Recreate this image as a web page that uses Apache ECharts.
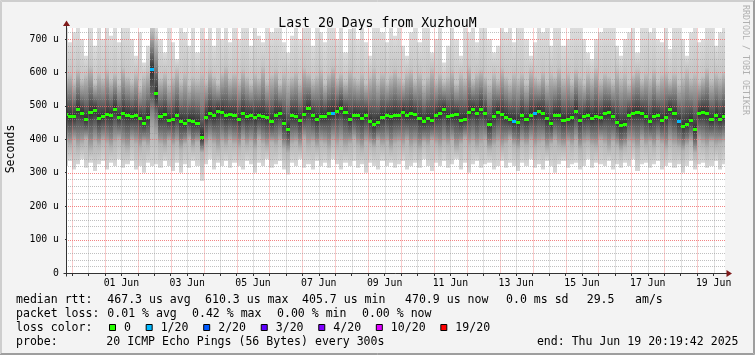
<!DOCTYPE html>
<html>
<head>
<meta charset="utf-8">
<title>Last 20 Days from XuzhouM</title>
<script src="https://cdn.jsdelivr.net/npm/echarts@6.0.0/dist/echarts.min.js"></script>
<style>
  html, body { margin: 0; padding: 0; background: #f3f3f3; }
  #main { width: 755px; height: 355px; }
</style>
</head>
<body>
<div id="main"></div>
<script>
// time axis is in hours since 30 May 00:00
const startHour = 20 + 19 / 60 + 42 / 3600;   // 30 May 20:19:42
const endHour = startHour + 20 * 24;          // 19 Jun 20:19:42
const firstColumn = 18;                       // first column starts 30 May 18:00
const columnHours = 3;

// median rtt per 3h column (us)
const median = [
  475, 470, 470, 490, 480, 460, 482, 488, 465, 470, 476,
  474, 492, 468, 480, 474, 470, 472, 465, 450, 466, 610,
  540, 470, 475, 458, 460, 472, 455, 448, 458, 455, 450,
  406, 468, 480, 472, 485, 482, 472, 475,
  472, 462, 478, 470, 473, 468, 473, 470, 466, 455,
  473, 478, 450, 431, 473, 470, 458, 475, 493, 472,
  462, 470, 471, 478, 480, 485, 495, 481, 460, 473,
  472, 465, 473, 455, 445, 453, 468, 473, 470, 473,
  472, 483, 472, 478, 475, 463, 455, 463, 458, 473,
  478, 490, 470, 472, 475, 458, 462, 482, 490, 480,
  492, 478, 445, 470, 483, 475, 468, 460, 455, 452,
  472, 462, 473, 478, 485, 478, 463, 448, 473, 473,
  458, 460, 466, 485, 458, 470, 473, 465, 470, 466,
  478, 482, 470, 452, 443, 446, 473, 478, 481, 478,
  470, 455, 470, 472, 458, 468, 490, 478, 455, 440,
  445, 458, 430, 478, 483, 478, 460, 472, 462, 471
];

// highest ping of each column (values above 733 run off the top)
const smokeTop = [
  760, 690, 720, 760, 700, 650, 740, 680, 760, 700, 760,
  710, 760, 690, 740, 760, 700, 650, 720, 630, 680, 760,
  760, 700, 660, 740, 690, 640, 760, 720, 680, 760, 660,
  760, 700, 760, 680, 740, 700, 760, 690,
  760, 700, 760, 740, 680, 760, 710, 690, 760, 720,
  760, 740, 690, 660, 710, 760, 700, 760, 740, 680,
  760, 720, 690, 760, 740, 700, 760, 660, 730, 760,
  700, 760, 690, 650, 740, 760, 720, 690, 760, 710,
  760, 680, 650, 720, 760, 690, 760, 740, 660, 700,
  760, 630, 680, 760, 700, 650, 760, 720, 760, 690,
  740, 760, 700, 660, 680, 760, 720, 760, 690, 740,
  760, 700, 650, 690, 760, 720, 760, 680, 740, 760,
  680, 700, 760, 740, 760, 700, 660, 640, 700, 720,
  760, 740, 760, 680, 650, 700, 720, 760, 660, 740,
  760, 720, 760, 700, 690, 760, 670, 740, 760, 700,
  650, 720, 760, 690, 700, 760, 740, 680, 720, 760
];

// upper edge of the darker smoke
const smokeHigh = [
  590, 600, 575, 610, 580, 595, 620, 570, 600, 585, 610,
  580, 600, 570, 615, 590, 575, 600, 560, 590, 605, 740,
  700, 585, 600, 570, 590, 610, 575, 600, 565, 590, 580,
  600, 575, 610, 590, 570, 600, 620, 585,
  600, 580, 610, 590, 570, 600, 585, 620, 575, 595,
  610, 570, 600, 580, 590, 605, 575, 615, 600, 580,
  595, 610, 570, 600, 620, 585, 600, 575, 610, 590,
  580, 600, 570, 590, 615, 580, 600, 575, 595, 610,
  590, 575, 600, 610, 580, 600, 570, 590, 615, 580,
  600, 575, 590, 610, 570, 600, 585, 620, 580, 600,
  610, 590, 570, 600, 580, 615, 590, 575, 600, 585,
  600, 570, 610, 590, 580, 605, 575, 600, 590, 615,
  585, 600, 575, 610, 590, 570, 600, 585, 615, 580,
  600, 590, 575, 610, 585, 600, 570, 595, 610, 580,
  600, 585, 610, 575, 595, 605, 580, 600, 570, 590,
  610, 585, 600, 575, 590, 615, 580, 600, 590, 605
];

// lower edge of the darker smoke
const smokeLow = [
  390, 380, 395, 375, 385, 400, 370, 390, 380, 395, 385,
  375, 390, 400, 380, 370, 395, 385, 375, 390, 380, 420,
  410, 385, 375, 395, 380, 390, 370, 385, 400, 375, 390,
  360, 380, 395, 385, 370, 390, 380, 395,
  385, 375, 395, 380, 390, 370, 400, 385, 375, 390,
  380, 395, 370, 360, 385, 390, 375, 400, 380, 390,
  375, 390, 385, 370, 395, 380, 390, 375, 385, 400,
  380, 370, 390, 385, 375, 395, 380, 390, 370, 385,
  390, 380, 395, 375, 385, 370, 390, 380, 395, 385,
  375, 390, 380, 395, 370, 385, 400, 380, 390, 375,
  385, 395, 370, 380, 390, 375, 385, 400, 380, 370,
  390, 380, 395, 375, 385, 390, 370, 385, 395, 380,
  375, 390, 380, 395, 370, 385, 390, 380, 375, 395,
  385, 370, 390, 380, 365, 375, 390, 385, 370, 395,
  380, 390, 375, 395, 385, 370, 390, 380, 375, 365,
  380, 390, 360, 395, 385, 375, 390, 380, 385, 390
];

// lowest ping of each column
const smokeBottom = [
  320, 335, 310, 325, 340, 315, 330, 305, 325, 335, 310,
  330, 320, 340, 315, 325, 335, 310, 320, 300, 330, 320,
  325, 315, 335, 320, 305, 330, 300, 325, 315, 335, 320,
  275, 325, 340, 310, 330, 320, 335, 315,
  330, 320, 310, 335, 325, 300, 330, 320, 340, 315,
  325, 335, 310, 295, 330, 320, 340, 315, 325, 310,
  335, 320, 330, 315, 340, 325, 310, 330, 320, 335,
  315, 325, 300, 330, 320, 310, 335, 320, 330, 315,
  325, 335, 310, 320, 330, 315, 340, 320, 305, 330,
  320, 335, 315, 325, 340, 310, 330, 300, 325, 335,
  315, 325, 330, 310, 320, 335, 315, 330, 320, 305,
  330, 320, 340, 315, 325, 310, 335, 320, 300, 325,
  335, 315, 325, 330, 310, 320, 340, 315, 330, 325,
  320, 335, 310, 325, 315, 330, 320, 340, 305, 325,
  330, 315, 325, 335, 310, 320, 330, 315, 325, 300,
  320, 335, 310, 325, 330, 315, 320, 335, 310, 325
];

// columns that lost pings, and how many (index into lossColors)
const lossColumns = [21, 65, 109, 114, 149];
const lossLevel = [1, 1, 1, 1, 1];

const lossLabels = ['0', '1/20', '2/20', '3/20', '4/20', '10/20', '19/20'];
const lossColors = ['#26ff00', '#00b8ff', '#0059ff', '#5e00ff', '#7e00ff', '#dd00ff', '#ff0000'];

// x axis: labels at noon of every second day, grid at midnight and noon
const xLabelText = ['01 Jun', '03 Jun', '05 Jun', '07 Jun', '09 Jun', '11 Jun', '13 Jun', '15 Jun', '17 Jun', '19 Jun'];
const xLabelHour = [60, 108, 156, 204, 252, 300, 348, 396, 444, 492];
const midnightHours = [24, 48, 72, 96, 120, 144, 168, 192, 216, 240, 264, 288, 312, 336, 360, 384, 408, 432, 456, 480];
const noonHours = [36, 60, 84, 108, 132, 156, 180, 204, 228, 252, 276, 300, 324, 348, 372, 396, 420, 444, 468, 492];

// y axis
const yMax = 733;
const yLabels = [0, 100, 200, 300, 400, 500, 600, 700];
const yMinor = [20, 40, 60, 80, 120, 140, 160, 180, 220, 240, 260, 280, 320, 340, 360, 380,
  420, 440, 460, 480, 520, 540, 560, 580, 620, 640, 660, 680, 720];

// legend text
const legendRtt = [['median rtt:', 16], ['467.3 us avg', 107.3], ['610.3 us max', 205], ['405.7 us min', 302],
  ['470.9 us now', 405], ['0.0 ms sd', 506], ['29.5', 586.7], ['am/s', 635]];
const legendLoss = [['packet loss:', 16], ['0.01 % avg', 107.3], ['0.42 % max', 192], ['0.00 % min', 277], ['0.00 % now', 362]];
const probeText = 'probe:       20 ICMP Echo Pings (56 Bytes) every 300s';
const endText = 'end: Thu Jun 19 20:19:42 2025';

const MONO = 'DejaVu Sans Mono';
const GRID = { left: 67, top: 28, width: 658, height: 245 };

const chart = echarts.init(document.getElementById('main'));

const smokeData = median.map((m, i) => [
  Math.max(firstColumn + i * columnHours, startHour),
  Math.min(firstColumn + (i + 1) * columnHours, endHour),
  smokeBottom[i], smokeLow[i], m, smokeHigh[i], smokeTop[i]
]);
const medianData = median.map((m, i) => {
  const k = lossColumns.indexOf(i);
  return [smokeData[i][0], smokeData[i][1], m, k < 0 ? 0 : lossLevel[k]];
});

function colRange(params, api) {
  const cs = params.coordSys;
  const xa = Math.max(Math.round(api.coord([api.value(0), 0])[0]), cs.x);
  const xb = Math.min(Math.round(api.coord([api.value(1), 0])[0]), cs.x + cs.width);
  return [xa, xb];
}

function renderSmoke(params, api) {
  const cs = params.coordSys;
  const [xa, xb] = colRange(params, api);
  const yOf = v => api.coord([api.value(0), v])[1];
  const yTop = Math.max(yOf(api.value(6)), cs.y);
  const yBot = yOf(api.value(2));
  const yLo = yOf(api.value(3));
  const yMed = yOf(api.value(4));
  const yHi = Math.max(yOf(api.value(5)), yTop);
  const h = yBot - yTop;
  const off = y => Math.min(1, Math.max(0, (y - yTop) / h));
  const fill = new echarts.graphic.LinearGradient(0, 0, 0, 1, [
    { offset: 0, color: '#dcdcdc' },
    { offset: off(yHi), color: '#c4c4c4' },
    { offset: off((yHi + yMed) / 2), color: '#818181' },
    { offset: off(yMed), color: '#303030' },
    { offset: off((yMed + yLo) / 2), color: '#6e6e6e' },
    { offset: off(yLo), color: '#b4b4b4' },
    { offset: 1, color: '#d8d8d8' }
  ]);
  return { type: 'rect', shape: { x: xa, y: yTop, width: xb - xa, height: h }, style: { fill: fill } };
}

function renderMedian(params, api) {
  const [xa, xb] = colRange(params, api);
  const y = Math.round(api.coord([api.value(0), api.value(2)])[1]);
  return { type: 'rect', shape: { x: xa, y: y - 1, width: xb - xa, height: 3 },
    style: { fill: lossColors[api.value(3)] } };
}

// legend graphics
const graphics = [];
const legendFont = { fontFamily: MONO, fontSize: 11.55, fill: '#000', verticalAlign: 'middle', align: 'left' };
function addText(text, x, y, extra) {
  graphics.push({ type: 'text', x: x, y: y, silent: true, z: 10,
    style: Object.assign({ text: text }, legendFont, extra || {}) });
}
legendRtt.forEach(([t, x]) => addText(t, x, 299.5));
legendLoss.forEach(([t, x]) => addText(t, x, 313.5));
addText('loss color:', 16, 327.5);
let bx = 109;
lossLabels.forEach((lab, i) => {
  graphics.push({ type: 'rect', silent: true, z: 10, shape: { x: bx + 0.5, y: 324.5, width: 6, height: 6 },
    style: { fill: lossColors[i], stroke: '#000', lineWidth: 1 } });
  addText(lab, bx + 15, 327.5);
  bx += 15 + lab.length * 6.96 + 14.7;
});
addText(probeText, 16, 341.5);
addText(endText, 738.5, 341.5, { align: 'right' });

// y axis title and watermark
addText('Seconds', 11, 149, { align: 'center' });
graphics[graphics.length - 1].rotation = Math.PI / 2;
graphics.push({ type: 'text', x: 745, y: 5, rotation: -Math.PI / 2, silent: true, z: 10,
  style: { text: 'RRDTOOL / TOBI OETIKER', fontFamily: MONO, fontSize: 8.3, fill: '#b0b0b0',
    align: 'left', verticalAlign: 'middle' } });

// frame
const frame = [
  { points: [[0.5, 354], [0.5, 0.5], [755, 0.5]], stroke: '#cecece' },
  { points: [[1.5, 353], [1.5, 1.5], [754, 1.5]], stroke: '#cecece' },
  { points: [[0, 354.5], [754.5, 354.5], [754.5, 0]], stroke: '#9e9e9e' },
  { points: [[1, 353.5], [753.5, 353.5], [753.5, 1]], stroke: '#9e9e9e' }
];
frame.forEach(f => graphics.push({ type: 'polyline', silent: true, z: 10, shape: { points: f.points },
  style: { stroke: f.stroke, lineWidth: 1, fill: null } }));

const option = {
  animation: false,
  backgroundColor: '#f3f3f3',
  title: {
    text: 'Last 20 Days from XuzhouM',
    left: 'center',
    top: 12,
    textStyle: { fontFamily: MONO, fontSize: 13.2, fontWeight: 'normal', color: '#000' }
  },
  grid: Object.assign({ show: true, backgroundColor: '#fff', borderWidth: 0 }, GRID),
  xAxis: {
    type: 'value',
    min: startHour,
    max: endHour,
    axisLine: { show: false },
    splitLine: { show: false },
    axisTick: { show: true, customValues: midnightHours.concat(noonHours), length: 3, lineStyle: { color: '#333' } },
    axisLabel: {
      customValues: xLabelHour,
      margin: 5,
      fontFamily: MONO, fontSize: 9.8, color: '#000',
      formatter: v => xLabelText[xLabelHour.indexOf(Math.round(v))] || ''
    }
  },
  yAxis: {
    type: 'value',
    min: 0,
    max: yMax,
    interval: 100,
    axisLine: { show: false },
    splitLine: { show: false },
    axisTick: { show: true, customValues: yLabels, length: 2, lineStyle: { color: '#333' } },
    axisLabel: {
      customValues: yLabels,
      margin: 8,
      fontFamily: MONO, fontSize: 9.8, color: '#000',
      formatter: v => (v === 0 ? '0' : v + ' u')
    }
  },
  series: [
    { name: 'smoke', type: 'custom', renderItem: renderSmoke, data: smokeData, clip: true, z: 1,
      encode: { x: [0, 1], y: [2, 6] }, silent: true },
    { name: 'median', type: 'custom', renderItem: renderMedian, data: medianData, clip: true, z: 5,
      encode: { x: [0, 1], y: 2 }, silent: true }
  ]
};

chart.setOption(option);

// grid and axes, placed through the chart's own scales
const toPx = (h, v) => chart.convertToPixel({ gridIndex: 0 }, [h, v]);
const pLeft = Math.round(toPx(startHour, 0)[0]);
const pBottom = Math.round(toPx(startHour, 0)[1]);
const pRight = Math.round(toPx(endHour, yMax)[0]);
const pTop = Math.round(toPx(endHour, yMax)[1]);

// horizontal rules: one pixel on, one off
function dots(color) {
  const c = document.createElement('canvas');
  c.width = 2;
  c.height = 1;
  const g = c.getContext('2d');
  g.fillStyle = color;
  g.fillRect(0, 0, 1, 1);
  return { image: c, repeat: 'repeat' };
}
const majH = dots('rgba(240,110,110,0.85)');
const minH = dots('rgba(150,150,150,0.6)');
function gridRect(x, y, w, h, fill) {
  graphics.push({ type: 'rect', silent: true, z: 3, shape: { x: x, y: y, width: w, height: h }, style: { fill: fill } });
}
// vertical rules drawn as a light continuous line
noonHours.forEach(h => gridRect(Math.round(toPx(h, 0)[0]), pTop, 1, pBottom - pTop, 'rgba(150,150,150,0.3)'));
midnightHours.forEach(h => gridRect(Math.round(toPx(h, 0)[0]), pTop, 1, pBottom - pTop, 'rgba(240,110,110,0.36)'));
yMinor.forEach(v => gridRect(pLeft, Math.round(toPx(startHour, v)[1]), pRight - pLeft, 1, minH));
yLabels.slice(1).forEach(v => gridRect(pLeft, Math.round(toPx(startHour, v)[1]), pRight - pLeft, 1, majH));

const ax = pLeft - 0.5, ay = pBottom + 0.5;
graphics.push({ type: 'line', silent: true, z: 6, shape: { x1: ax - 3, y1: ay, x2: pRight + 2, y2: ay }, style: { stroke: '#333', lineWidth: 1 } });
graphics.push({ type: 'line', silent: true, z: 6, shape: { x1: ax, y1: ay + 3, x2: ax, y2: pTop - 2 }, style: { stroke: '#333', lineWidth: 1 } });
graphics.push({ type: 'polygon', silent: true, z: 6, shape: { points: [[pRight + 1.5, ay - 3.5], [pRight + 7, ay], [pRight + 1.5, ay + 3.5]] }, style: { fill: '#7f1a1a' } });
graphics.push({ type: 'polygon', silent: true, z: 6, shape: { points: [[ax - 3.5, pTop - 2], [ax, pTop - 7.5], [ax + 3.5, pTop - 2]] }, style: { fill: '#7f1a1a' } });

chart.setOption({ graphic: graphics });
</script>
</body>
</html>
